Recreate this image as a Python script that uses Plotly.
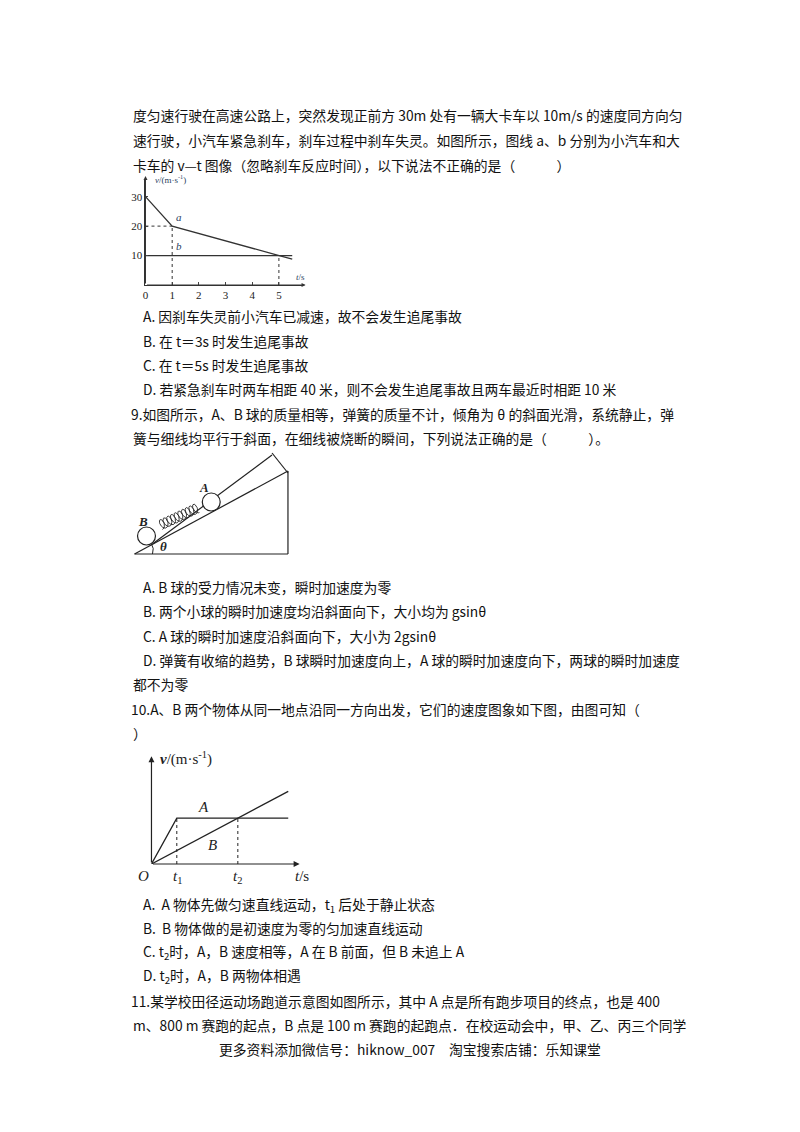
import plotly.graph_objects as go
import numpy as np

W, H = 800, 1132
FONT = "Noto Sans CJK SC"

# chart 1 data
t_a = [0, 1, 5.5]
v_a = [30, 20, 8.75]
t_b = [0, 5.5]
v_b = [10, 10]
x1_ticks = [0, 1, 2, 3, 4, 5]
y1_ticks = [10, 20, 30]

# chart 3 data
t_A = [0, 1, 5.4]
v_A = [0, 2, 2]
t_B = [0, 5.4]
v_B = [0, 3.17]
t1, t2 = 1, 3.41

lines = [
    (120, 107, "度匀速行驶在高速公路上，突然发现正前方 30m 处有一辆大卡车以 10m/s 的速度同方向匀"),
    (120, 132, "速行驶，小汽车紧急刹车，刹车过程中刹车失灵。如图所示，图线 a、b 分别为小汽车和大"),
    (120, 157, "卡车的 v—t 图像（忽略刹车反应时间），以下说法不正确的是（　　　）"),
    (130, 308, "A. 因刹车失灵前小汽车已减速，故不会发生追尾事故"),
    (130, 333, "B. 在 t＝3s 时发生追尾事故"),
    (130, 357, "C. 在 t＝5s 时发生追尾事故"),
    (130, 381, "D. 若紧急刹车时两车相距 40 米，则不会发生追尾事故且两车最近时相距 10 米"),
    (118, 406, "9.如图所示，A、B 球的质量相等，弹簧的质量不计，倾角为 θ 的斜面光滑，系统静止，弹"),
    (120, 430, "簧与细线均平行于斜面，在细线被烧断的瞬间，下列说法正确的是（　　　）。"),
    (130, 579, "A. B 球的受力情况未变，瞬时加速度为零"),
    (130, 603, "B. 两个小球的瞬时加速度均沿斜面向下，大小均为 gsinθ"),
    (130, 628, "C. A 球的瞬时加速度沿斜面向下，大小为 2gsinθ"),
    (130, 652, "D. 弹簧有收缩的趋势，B 球瞬时加速度向上，A 球的瞬时加速度向下，两球的瞬时加速度"),
    (120, 676, "都不为零"),
    (118, 701, "10.A、B 两个物体从同一地点沿同一方向出发，它们的速度图象如下图，由图可知（"),
    (120, 725, "）"),
    (130, 897, "A.  A 物体先做匀速直线运动，t<sub>1</sub> 后处于静止状态"),
    (130, 920, "B.  B 物体做的是初速度为零的匀加速直线运动"),
    (130, 944, "C. t<sub>2</sub>时，A，B 速度相等，A 在 B 前面，但 B 未追上 A"),
    (130, 968, "D. t<sub>2</sub>时，A，B 两物体相遇"),
    (118, 993, "11.某学校田径运动场跑道示意图如图所示，其中 A 点是所有跑步项目的终点，也是 400"),
    (120, 1017, "m、800 m 赛跑的起点，B 点是 100 m 赛跑的起跑点．在校运动会中，甲、乙、丙三个同学"),
]

fig = go.Figure()

def px(x): return x / W
def py(y): return 1 - y / H

# ---- chart 1
c1x = [px(135), px(293)]
c1y = [py(277), py(171)]
fig.add_trace(go.Scatter(x=t_a, y=v_a, mode="lines", line=dict(color="#333", width=1.3),
                         xaxis="x", yaxis="y", showlegend=False))
fig.add_trace(go.Scatter(x=t_b, y=v_b, mode="lines", line=dict(color="#333", width=1.3),
                         xaxis="x", yaxis="y", showlegend=False))
for (xx, yy) in [([0, 1], [20, 20]), ([1, 1], [0, 20]), ([5, 5], [0, 10])]:
    fig.add_trace(go.Scatter(x=xx, y=yy, mode="lines", line=dict(color="#333", width=1, dash="dot"),
                             xaxis="x", yaxis="y", showlegend=False))
fig.add_annotation(x=1.05, y=20.5, xref="x", yref="y", text="<i>a</i>", showarrow=False,
                   xanchor="left", yanchor="bottom", font=dict(family="Liberation Serif", size=11))
fig.add_annotation(x=1.05, y=10.5, xref="x", yref="y", text="<i>b</i>", showarrow=False,
                   xanchor="left", yanchor="bottom", font=dict(family="Liberation Serif", size=11))
fig.add_annotation(x=0.3, y=36, xref="x", yref="y", text="<i>v</i>/(m·s<sup>-1</sup>)", showarrow=False,
                   xanchor="left", yanchor="middle", font=dict(family="Liberation Serif", size=9))
fig.add_annotation(x=5.55, y=0.5, xref="x", yref="y", text="<i>t</i>/s", showarrow=False,
                   xanchor="left", yanchor="bottom", font=dict(family="Liberation Serif", size=9))
fig.add_annotation(x=0, y=37, ax=0, ay=0, xref="x", yref="y", axref="x", ayref="y",
                   showarrow=True, arrowhead=2, arrowsize=0.8, arrowwidth=1, arrowcolor="#333", text="")
fig.add_annotation(x=6.0, y=0, ax=0, ay=0, xref="x", yref="y", axref="x", ayref="y",
                   showarrow=True, arrowhead=2, arrowsize=0.8, arrowwidth=1, arrowcolor="#333", text="")

# ---- chart 3
fig.add_trace(go.Scatter(x=t_A, y=v_A, mode="lines", line=dict(color="#222", width=1.3),
                         xaxis="x2", yaxis="y2", showlegend=False))
fig.add_trace(go.Scatter(x=t_B, y=v_B, mode="lines", line=dict(color="#222", width=1.3),
                         xaxis="x2", yaxis="y2", showlegend=False))
for tt in [t1, t2]:
    fig.add_trace(go.Scatter(x=[tt, tt], y=[0, 2], mode="lines", line=dict(color="#222", width=1, dash="dot"),
                             xaxis="x2", yaxis="y2", showlegend=False))
fig.add_annotation(x=0, y=4.7, ax=0, ay=0, xref="x2", yref="y2", axref="x2", ayref="y2",
                   showarrow=True, arrowhead=2, arrowsize=1, arrowwidth=1.2, arrowcolor="#222", text="")
fig.add_annotation(x=5.85, y=0, ax=0, ay=0, xref="x2", yref="y2", axref="x2", ayref="y2",
                   showarrow=True, arrowhead=2, arrowsize=1, arrowwidth=1.2, arrowcolor="#222", text="")
sfont = dict(family="Liberation Serif", size=15, color="#222")
fig.add_annotation(x=0.25, y=4.6, xref="x2", yref="y2", text="<i><b>v</b></i>/(m·s<sup>-1</sup>)",
                   showarrow=False, xanchor="left", font=sfont)
fig.add_annotation(x=2.05, y=2.05, xref="x2", yref="y2", text="<i>A</i>", showarrow=False,
                   yanchor="bottom", font=sfont)
fig.add_annotation(x=2.4, y=0.85, xref="x2", yref="y2", text="<i>B</i>", showarrow=False, font=sfont)
for (lx, ly, lt) in [(133, 868, "<i>O</i>"), (167, 869, "<i>t</i><sub>1</sub>"),
                     (227, 869, "<i>t</i><sub>2</sub>"), (292, 868, "<i>t</i>/s")]:
    fig.add_annotation(x=lx, y=ly, xref="x3", yref="y3", text=lt, showarrow=False, font=sfont)

# ---- incline diagram (pixel axis)
def seg(x0, y0, x1, y1, w=1.2):
    fig.add_shape(type="line", x0=x0, y0=y0, x1=x1, y1=y1, xref="x3", yref="y3",
                  line=dict(color="#222", width=w))
seg(124, 546, 278, 546)
seg(278, 546, 278, 463)
seg(124, 546, 278, 463)
seg(142, 536, 262, 447)
seg(262, 445, 278, 465)
for (cx, cy, r) in [(136, 528, 9), (201, 494, 9)]:
    fig.add_shape(type="circle", x0=cx - r, y0=cy - r, x1=cx + r, y1=cy + r, xref="x3", yref="y3",
                  line=dict(color="#222", width=1.2), fillcolor="white")
s = np.linspace(0, 1, 300)
ux, uy = 187 - 150, 500 - 517
L = np.hypot(ux, uy)
ex, ey = ux / L, uy / L
nx, ny = -ey, ex
ncoil = 10
along = s * L + 3 * np.sin(2 * np.pi * ncoil * s)
perp = 5 * np.cos(2 * np.pi * ncoil * s)
fig.add_trace(go.Scatter(x=150 + ex * along + nx * perp, y=517 + ey * along + ny * perp, mode="lines",
                         line=dict(color="#222", width=0.9), xaxis="x3", yaxis="y3", showlegend=False))
fig.add_shape(type="path", path="M 142 546 Q 144 540 141 536", xref="x3", yref="y3",
              line=dict(color="#222", width=1))
dfont = dict(family="Liberation Serif", size=13, color="#222")
fig.add_annotation(x=132, y=513, xref="x3", yref="y3", text="<i><b>B</b></i>", showarrow=False, font=dfont)
fig.add_annotation(x=194, y=479, xref="x3", yref="y3", text="<i><b>A</b></i>", showarrow=False, font=dfont)
fig.add_annotation(x=153, y=538, xref="x3", yref="y3", text="<i><b>θ</b></i>", showarrow=False, font=dfont)

# ---- text
for (x, y, t) in lines:
    fig.add_annotation(x=px(x), y=py(y), xref="paper", yref="paper", text=t, showarrow=False,
                       xanchor="left", yanchor="middle", font=dict(family=FONT, size=13.8, color="#111"))
fig.add_annotation(x=px(400), y=py(1041), xref="paper", yref="paper",
                   text="更多资料添加微信号：hiknow_007　淘宝搜索店铺：乐知课堂", showarrow=False,
                   xanchor="center", yanchor="middle", font=dict(family=FONT, size=13.8, color="#111"))

tfont = dict(family="Liberation Serif", size=11, color="#222")
fig.update_layout(
    width=W, height=H, margin=dict(l=0, r=0, t=0, b=0),
    paper_bgcolor="white", plot_bgcolor="rgba(0,0,0,0)",
    xaxis=dict(domain=c1x, range=[0, 5.9], anchor="y", showgrid=False, zeroline=False,
               tickvals=x1_ticks, ticks="inside", ticklen=3, tickfont=tfont,
               showline=True, linecolor="#333", fixedrange=True),
    yaxis=dict(domain=c1y, range=[0, 36], anchor="x", showgrid=False, zeroline=False,
               tickvals=y1_ticks, ticks="inside", ticklen=3, tickfont=tfont,
               showline=True, linecolor="#333"),
    xaxis2=dict(domain=[px(141), px(291)], range=[0, 5.9], anchor="y2", visible=False),
    yaxis2=dict(domain=[py(856), py(746)], range=[0, 4.8], anchor="x2", visible=False),
    xaxis3=dict(domain=[0, 1], range=[0, W], anchor="y3", visible=False),
    yaxis3=dict(domain=[0, 1], range=[H, 0], anchor="x3", visible=False),
)
fig.write_html("out.html")
